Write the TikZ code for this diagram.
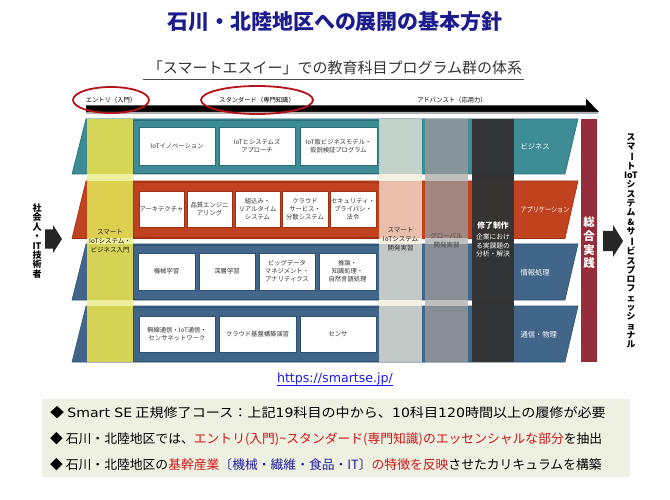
\documentclass[tikz,border=0pt]{standalone}
\usepackage{fontspec}
\setmainfont{Noto Sans CJK JP}
\newfontfamily\urlfnt{DejaVu Sans}
\usetikzlibrary{calc}
\definecolor{teal1}{HTML}{3D8B95}
\definecolor{teal2}{HTML}{2A6F78}
\definecolor{org1}{HTML}{C1421F}
\definecolor{org2}{HTML}{A03012}
\definecolor{blu1}{HTML}{426689}
\definecolor{blu2}{HTML}{2E5070}
\definecolor{ttl}{HTML}{1C1C8F}
\definecolor{ell}{HTML}{B5121B}
\definecolor{maroon}{HTML}{952D3B}
\definecolor{boxbg}{HTML}{EEF0E1}
\definecolor{redtxt}{HTML}{D01818}
\definecolor{blutxt}{HTML}{2020A0}
\definecolor{yel}{HTML}{E2DC52}
\definecolor{yelgap}{HTML}{EFEFA0}
\definecolor{cream}{HTML}{F6F0E0}
\definecolor{gry}{HTML}{999999}
\definecolor{dk}{HTML}{333333}
\definecolor{urlblue}{HTML}{1A1AEE}
\newcommand{\fs}[2]{\fontsize{#1pt}{#2pt}\selectfont}
\newcommand{\vbar}{\rotatebox[origin=c]{-90}{ー}}
\newcommand{\lt}[1]{{\urlfnt #1}}
\tikzset{
  course/.style={draw=#1, line width=0.5pt, fill=white, text=black!80, align=center, inner sep=0pt, font=\fs{6.3}{8}},
  bandlbl/.style={text=white, anchor=west, font=\fs{7.3}{9}},
  coltxt/.style={align=center, font=\fs{6.5}{9}},
  blockarrow/.style={fill=black!85, draw=none},
}
\begin{document}
\begin{tikzpicture}[x=1pt,y=-1pt]
\useasboundingbox (0,0) rectangle (670,500);
% title
\node (title) at (335,22) {\fs{21}{24}\bfseries\color{ttl}石川・北陸地区への展開の基本方針};
\node (sub) at (335,68) {\fs{15}{18}\color{black!80}「スマートエスイー」での教育科目プログラム群の体系};
\coordinate (ulA) at (143,79);
\coordinate (ulB) at (524,79);
\draw[black!70, line width=0.8pt] (ulA) -- (ulB);
% level arrow
\fill[black] (86,105.5) -- (586,105.5) -- (586,98.5) -- (599,112) -- (86,112) -- cycle;
\fill[black!30] (86,112) -- (599,112) -- (597,114) -- (86,114) -- cycle;
\node (lv1) at (111,100) {\fs{6.3}{7}エントリ（入門）};
\node (lv2) at (257,100) {\fs{6.3}{7}スタンダード（専門知識）};
\node (lv3) at (452,100) {\fs{6.3}{7}アドバンスト（応用力）};
\draw[ell, line width=1.8pt] (lv1.center) ellipse [x radius=38, y radius=13];
\draw[ell, line width=1.8pt] (lv2.center) ellipse [x radius=56, y radius=14];
% bands
\foreach \t/\b/\fc/\dc in {119/174/teal1/teal2, 181/238.5/org1/org2, 244/300/blu1/blu2, 306/362/blu1/blu2}{
  \fill[\fc, draw=\dc, line width=0.6pt] (86,\t) -- (578,\t) -- (565,\b) -- (72,\b) -- cycle;
  \draw[\dc, line width=0.6pt] (133,\t+1) rectangle (379,\b-1);
}
% columns over bands
\foreach \t/\b in {119/174, 181/238.5, 244/300, 306/362}{
  \fill[yel, opacity=0.92] (87,\t) rectangle (133,\b);
  \fill[cream, opacity=0.72] (379,\t) rectangle (422,\b);
  \fill[gry, opacity=0.8] (425,\t) rectangle (468,\b);
  \fill[dk, opacity=0.97] (472,\t) rectangle (514,\b);
}
% columns in gaps
\foreach \t/\b in {174/181, 238.5/244, 300/306}{
  \fill[yelgap] (87,\t) rectangle (133,\b);
  \fill[cream] (379,\t) rectangle (422,\b);
  \fill[black!25] (425,\t) rectangle (468,\b);
  \fill[dk] (472,\t) rectangle (514,\b);
}
% band labels
\node[bandlbl] (l1) at (517,147) {ビジネス};
\node[bandlbl] (l2) at (517,210) {\scalebox{0.84}[1]{アプリケーション}};
\node[bandlbl] (l3) at (517,273) {情報処理};
\node[bandlbl] (l4) at (517,335) {通信・物理};
% courses band 1
\node[course=teal2, minimum width=76, minimum height=38] (c11) at (177,146) {IoTイノベーション};
\node[course=teal2, minimum width=76, minimum height=38] (c12) at (257,146) {IoTとシステムズ\\アプローチ};
\node[course=teal2, minimum width=77, minimum height=38] (c13) at (338.5,146) {IoT版ビジネスモデル・\\仮説検証プログラム};
% band 2
\node[course=org2, minimum width=45, minimum height=36] (c21) at (161.5,209) {アーキテクチャ};
\node[course=org2, minimum width=45, minimum height=36] (c22) at (209.5,209) {品質エンジニ\\アリング};
\node[course=org2, minimum width=45, minimum height=36] (c23) at (257.5,209) {組込み・\\リアルタイム\\システム};
\node[course=org2, minimum width=46, minimum height=36] (c24) at (305,209) {クラウド\\サービス・\\分散システム};
\node[course=org2, minimum width=46, minimum height=36] (c25) at (353,209) {セキュリティ・\\プライバシ・\\法令};
% band 3
\node[course=blu2, minimum width=57, minimum height=37] (c31) at (166.5,271.5) {機械学習};
\node[course=blu2, minimum width=56, minimum height=37] (c32) at (227,271.5) {深層学習};
\node[course=blu2, minimum width=56, minimum height=37] (c33) at (287,271.5) {ビッグデータ\\マネジメント・\\アナリティクス};
\node[course=blu2, minimum width=57, minimum height=37] (c34) at (347.5,271.5) {推論・\\知識処理・\\自然言語処理};
% band 4
\node[course=blu2, minimum width=76, minimum height=36] (c41) at (177,334) {無線通信・IoT通信・\\センサネットワーク};
\node[course=blu2, minimum width=77, minimum height=36] (c42) at (257.5,334) {クラウド基盤構築演習};
\node[course=blu2, minimum width=76, minimum height=36] (c43) at (338,334) {センサ};
% column texts
\node[coltxt, text=black!90] (t1) at (110,241) {スマート\\IoTシステム・\\ビジネス入門};
\node[coltxt, text=black!85] (t2) at (400.5,239.5) {スマート\\IoTシステム\\開発実習};
\node[coltxt, text=black!72] (t3) at (446.5,240.5) {グローバル\\開発実習};
\node[text=white, font=\fs{7.8}{9}\bfseries] (t4a) at (493,226) {修了制作};
\node[coltxt, text=white, font=\fs{6.8}{8.6}] (t4b) at (493,245.5) {企業におけ\\る実課題の\\分析・解決};
% practice bar
\fill[maroon] (581,119) rectangle (597,362);
\node[text=white, align=center, font=\fs{11.5}{13.7}\bfseries] (prac) at (589,243) {総\\合\\実\\践};
% left input
\node[align=center, font=\fs{9}{9.4}\bfseries, inner sep=0pt] (inp) at (37,241) {社\\会\\人\\・\\IT\\技\\術\\者};
\fill[blockarrow] (45,229.5) -- (53,229.5) -- (53,225) -- (62,239) -- (53,253) -- (53,248.5) -- (45,248.5) -- cycle;
% right output
\fill[blockarrow] (603,231) -- (613,231) -- (613,225) -- (623,241) -- (613,257) -- (613,251) -- (603,251) -- cycle;
\node[align=center, font=\fs{8.8}{9.3}\bfseries, inner sep=0pt] (out) at (631,241) {ス\\マ\\\vbar\\ト\\IoT\\シ\\ス\\テ\\ム\\\&\\サ\\\vbar\\ビ\\ス\\プ\\ロ\\フ\\ェ\\ッ\\シ\\ョ\\ナ\\ル};
% url
\node (url) at (335,379) {\urlfnt\fs{12.6}{14}\color{urlblue}https://smartse.jp/};
\draw[urlblue, line width=0.6pt] ($(url.south west)+(3,-3)$) -- ($(url.south east)+(-3,-3)$);
% bottom box
\fill[boxbg] (42,399) rectangle (630,477);
\node[anchor=west, inner sep=0pt] (b1) at (50,412.5) {\fs{12.8}{14}\scalebox{1.1}[1]{◆ \lt{Smart SE} 正規修了コース：上記\lt{19}科目の中から、\lt{10}科目\lt{120}時間以上の履修が必要}};
\node[anchor=west, inner sep=0pt] (b2) at (50,439) {\fs{12.8}{14}◆ 石川・北陸地区では、{\color{redtxt}エントリ(入門)\textasciitilde スタンダード(専門知識)のエッセンシャルな部分}を抽出};
\node[anchor=west, inner sep=0pt] (b3) at (50,465) {\fs{12.8}{14}◆ 石川・北陸地区の{\color{redtxt}基幹産業}{\color{blutxt}〔機械・繊維・食品・IT〕}{\color{redtxt}の特徴を反映}させたカリキュラムを構築};
\end{tikzpicture}
\end{document}
